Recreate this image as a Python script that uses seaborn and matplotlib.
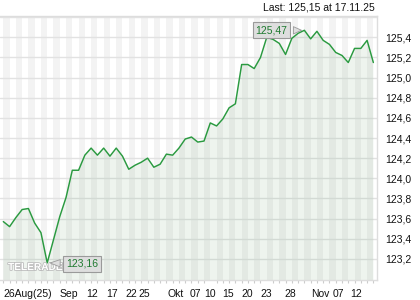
import matplotlib
matplotlib.use("Agg")
import matplotlib.pyplot as plt
import matplotlib.patheffects as pe
from matplotlib.ticker import FixedLocator, NullFormatter
import seaborn as sns
import numpy as np
import pandas as pd

# ---- data (trading days 26 Aug 2025 .. 17 Nov 2025) ----
prices = [
    123.57, 123.52, 123.61, 123.69, 123.70, 123.555, 123.46, 123.16, 123.39, 123.62,
    123.81, 124.08, 124.08, 124.23, 124.30, 124.23, 124.30, 124.22, 124.30, 124.22,
    124.09, 124.13, 124.16, 124.20, 124.11, 124.14, 124.24, 124.23, 124.30, 124.39,
    124.41, 124.36, 124.37, 124.55, 124.52, 124.59, 124.70, 124.74, 125.13, 125.13,
    125.09, 125.20, 125.40, 125.38, 125.34, 125.23, 125.39, 125.44, 125.47, 125.385,
    125.46, 125.37, 125.33, 125.25, 125.22, 125.15, 125.29, 125.29, 125.37, 125.15,
]
x_labels = ["26Aug(25)", "Sep", "12", "17", "22", "25", "Okt", "07", "10", "15",
            "20", "23", "28", "Nov", "07", "12"]
x_label_pos = [3.86, 10.5, 14.1, 17.3, 20.4, 22.4, 27.4, 30.7, 33.0, 35.8,
               38.9, 42.0, 45.7, 50.5, 53.4, 56.3]
y_ticks = [123.2, 123.4, 123.6, 123.8, 124.0, 124.2, 124.4, 124.6, 124.8, 125.0, 125.2, 125.4]
y_labels = ["123,2", "123,4", "123,6", "123,8", "124,0", "124,2", "124,4", "124,6",
            "124,8", "125,0", "125,2", "125,4"]
max_label = "125,47"
min_label = "123,16"
last_text = "Last: 125,15 at 17.11.25"
watermark = "TELERADER"

df = pd.DataFrame({"day": np.arange(len(prices)), "price": prices})

sns.set_style("white")
plt.rcParams["font.family"] = ["Liberation Sans", "DejaVu Sans"]

GREEN = "#2a9a40"
GRID = "#e2e2e2"

fig = plt.figure(figsize=(4.2, 3.0), dpi=100)
fig.patch.set_facecolor("white")
ax = fig.add_axes([0.0, 20 / 300, 377 / 420, (280 - 16) / 300])
ax.set_facecolor("white")

n = len(prices)
ax.set_xlim(-0.53, n - 1 + 0.58)
ax.set_ylim(122.99, 125.612)

# alternating day stripes
for i in range(0, n - 1, 2):
    ax.axvspan(i, i + 1, color="#f3f3f3", lw=0, zorder=0)

# horizontal grid
for t in y_ticks + [125.6]:
    ax.axhline(t, color=GRID, lw=1.0, zorder=1)

ax.fill_between(df["day"], df["price"], 122.0, color="#3a8a45", alpha=0.085, lw=0, zorder=2)
sns.lineplot(data=df, x="day", y="price", color=GREEN, lw=1.05, ax=ax, zorder=3)

ax.set_xlabel("")
ax.set_ylabel("")

# y axis on right
ax.yaxis.tick_right()
ax.set_yticks(y_ticks)
ax.set_yticklabels(y_labels)
ax.tick_params(axis="y", which="both", length=0, pad=6, labelsize=7.5, labelcolor="#111111")

# x axis
ax.xaxis.set_major_locator(FixedLocator(x_label_pos))
ax.set_xticklabels(x_labels)
ax.xaxis.set_minor_locator(FixedLocator(list(range(n))))
ax.xaxis.set_minor_formatter(NullFormatter())
ax.tick_params(axis="x", which="major", length=0, pad=6.5, labelsize=7.5, labelcolor="#111111")
ax.tick_params(axis="x", which="minor", length=2.5, width=0.8, color="#cccccc", direction="out")
ax.tick_params(axis="x", which="both", bottom=True)

ax.spines["left"].set_visible(False)
for s in ["top", "right", "bottom"]:
    ax.spines[s].set_color("#dddddd")
    ax.spines[s].set_linewidth(1.0)

# watermark (behind the callouts)
ax.text(8 / 420, 1 - 272 / 300, watermark, transform=fig.transFigure, ha="left", va="bottom",
        fontsize=7.3, fontweight="bold", color="white", zorder=4,
        path_effects=[pe.withStroke(linewidth=1.2, foreground="#bdbdbd")])

# callouts for max and min
imax = int(np.argmax(prices))
imin = int(np.argmin(prices))
box = dict(boxstyle="square,pad=0.28", fc="#dedede", ec="#9a9a9a", lw=0.8)
ax.annotate(max_label, xy=(imax, prices[imax]), xytext=(-33, 0), textcoords="offset pixels",
            ha="center", va="center", fontsize=7.5, color="#1f7a30", bbox=box, zorder=6,
            arrowprops=dict(arrowstyle="wedge,tail_width=0.7,shrink_factor=0.5",
                            fc="#dedede", ec="#9a9a9a", lw=0.6))
ax.annotate(min_label, xy=(imin, prices[imin]), xytext=(35, -1), textcoords="offset pixels",
            ha="center", va="center", fontsize=7.5, color="#1f7a30", bbox=box, zorder=6,
            arrowprops=dict(arrowstyle="wedge,tail_width=0.7,shrink_factor=0.5",
                            fc="#dedede", ec="#9a9a9a", lw=0.6))

fig.text(375 / 420, 1 - 7 / 300, last_text, ha="right", va="center", fontsize=7.5, color="#111111")

fig.savefig("out.png", dpi=100, facecolor="white")
